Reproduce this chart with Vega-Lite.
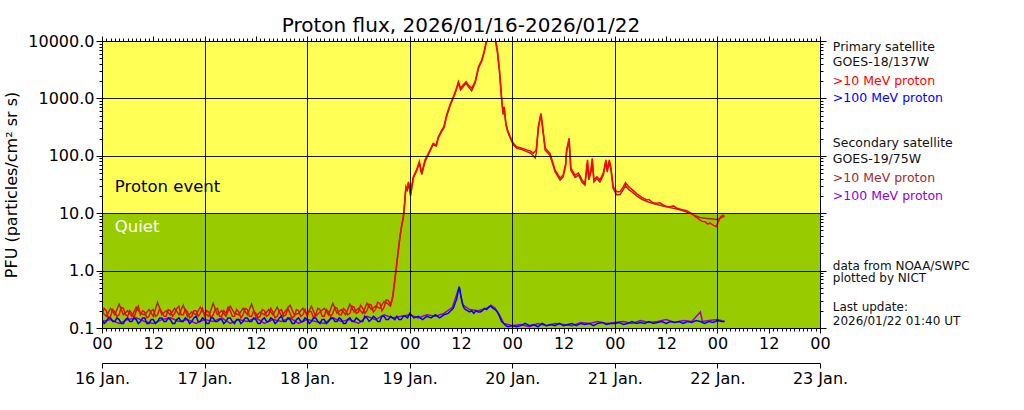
{
"$schema":"https://vega.github.io/schema/vega-lite/v6.json",
"width":718,"height":287,
"autosize":{"type":"none"},
"padding":{"left":102,"top":41,"right":204,"bottom":82},
"background":"white",
"title":{"text":"Proton flux, 2026/01/16-2026/01/22","fontSize":20,"font":"DejaVu Sans","fontWeight":"normal","color":"black","offset":-3,"anchor":"middle"},
"config":{"font":"DejaVu Sans","view":{"stroke":null},"axis":{"labelFont":"DejaVu Sans","titleFont":"DejaVu Sans","labelColor":"black","tickColor":"black","domainColor":"black","labelFontSize":16,"tickWidth":1,"domainWidth":1,"grid":false}},
"datasets":{
"goes18_10MeV":[
{"t":"2026-01-16T00:00Z","v":0.17},{"t":"2026-01-16T00:30Z","v":0.22},{"t":"2026-01-16T01:00Z","v":0.2},{"t":"2026-01-16T01:30Z","v":0.15},{"t":"2026-01-16T02:00Z","v":0.16},{"t":"2026-01-16T02:30Z","v":0.21},{"t":"2026-01-16T03:00Z","v":0.19},{"t":"2026-01-16T03:30Z","v":0.16},{"t":"2026-01-16T04:00Z","v":0.17},{"t":"2026-01-16T04:30Z","v":0.23},{"t":"2026-01-16T05:00Z","v":0.22},{"t":"2026-01-16T05:30Z","v":0.17},{"t":"2026-01-16T06:00Z","v":0.16},{"t":"2026-01-16T06:30Z","v":0.2},{"t":"2026-01-16T07:00Z","v":0.18},{"t":"2026-01-16T07:30Z","v":0.15},{"t":"2026-01-16T08:00Z","v":0.2},{"t":"2026-01-16T08:30Z","v":0.24},{"t":"2026-01-16T09:00Z","v":0.17},{"t":"2026-01-16T09:30Z","v":0.2},{"t":"2026-01-16T10:00Z","v":0.19},{"t":"2026-01-16T10:30Z","v":0.15},{"t":"2026-01-16T11:00Z","v":0.16},{"t":"2026-01-16T11:30Z","v":0.2},{"t":"2026-01-16T12:00Z","v":0.21},{"t":"2026-01-16T12:30Z","v":0.16},{"t":"2026-01-16T13:00Z","v":0.17},{"t":"2026-01-16T13:30Z","v":0.22},{"t":"2026-01-16T14:00Z","v":0.19},{"t":"2026-01-16T14:30Z","v":0.16},{"t":"2026-01-16T15:00Z","v":0.16},{"t":"2026-01-16T15:30Z","v":0.21},{"t":"2026-01-16T16:00Z","v":0.2},{"t":"2026-01-16T16:30Z","v":0.16},{"t":"2026-01-16T17:00Z","v":0.18},{"t":"2026-01-16T17:30Z","v":0.22},{"t":"2026-01-16T18:00Z","v":0.24},{"t":"2026-01-16T18:30Z","v":0.17},{"t":"2026-01-16T19:00Z","v":0.17},{"t":"2026-01-16T19:30Z","v":0.21},{"t":"2026-01-16T20:00Z","v":0.19},{"t":"2026-01-16T20:30Z","v":0.15},{"t":"2026-01-16T21:00Z","v":0.16},{"t":"2026-01-16T21:30Z","v":0.2},{"t":"2026-01-16T22:00Z","v":0.2},{"t":"2026-01-16T22:30Z","v":0.16},{"t":"2026-01-16T23:00Z","v":0.18},{"t":"2026-01-16T23:30Z","v":0.22},
{"t":"2026-01-17T00:00Z","v":0.16},{"t":"2026-01-17T00:30Z","v":0.2},{"t":"2026-01-17T01:00Z","v":0.19},{"t":"2026-01-17T01:30Z","v":0.15},{"t":"2026-01-17T02:00Z","v":0.17},{"t":"2026-01-17T02:30Z","v":0.21},{"t":"2026-01-17T03:00Z","v":0.22},{"t":"2026-01-17T03:30Z","v":0.16},{"t":"2026-01-17T04:00Z","v":0.16},{"t":"2026-01-17T04:30Z","v":0.2},{"t":"2026-01-17T05:00Z","v":0.18},{"t":"2026-01-17T05:30Z","v":0.23},{"t":"2026-01-17T06:00Z","v":0.2},{"t":"2026-01-17T06:30Z","v":0.16},{"t":"2026-01-17T07:00Z","v":0.16},{"t":"2026-01-17T07:30Z","v":0.21},{"t":"2026-01-17T08:00Z","v":0.19},{"t":"2026-01-17T08:30Z","v":0.15},{"t":"2026-01-17T09:00Z","v":0.17},{"t":"2026-01-17T09:30Z","v":0.22},{"t":"2026-01-17T10:00Z","v":0.21},{"t":"2026-01-17T10:30Z","v":0.16},{"t":"2026-01-17T11:00Z","v":0.16},{"t":"2026-01-17T11:30Z","v":0.2},{"t":"2026-01-17T12:00Z","v":0.18},{"t":"2026-01-17T12:30Z","v":0.15},{"t":"2026-01-17T13:00Z","v":0.16},{"t":"2026-01-17T13:30Z","v":0.21},{"t":"2026-01-17T14:00Z","v":0.2},{"t":"2026-01-17T14:30Z","v":0.16},{"t":"2026-01-17T15:00Z","v":0.17},{"t":"2026-01-17T15:30Z","v":0.22},{"t":"2026-01-17T16:00Z","v":0.19},{"t":"2026-01-17T16:30Z","v":0.15},{"t":"2026-01-17T17:00Z","v":0.16},{"t":"2026-01-17T17:30Z","v":0.2},{"t":"2026-01-17T18:00Z","v":0.21},{"t":"2026-01-17T18:30Z","v":0.16},{"t":"2026-01-17T19:00Z","v":0.17},{"t":"2026-01-17T19:30Z","v":0.22},{"t":"2026-01-17T20:00Z","v":0.18},{"t":"2026-01-17T20:30Z","v":0.15},{"t":"2026-01-17T21:00Z","v":0.16},{"t":"2026-01-17T21:30Z","v":0.21},{"t":"2026-01-17T22:00Z","v":0.2},{"t":"2026-01-17T22:30Z","v":0.16},{"t":"2026-01-17T23:00Z","v":0.17},{"t":"2026-01-17T23:30Z","v":0.21},
{"t":"2026-01-18T00:00Z","v":0.16},{"t":"2026-01-18T00:30Z","v":0.2},{"t":"2026-01-18T01:00Z","v":0.19},{"t":"2026-01-18T01:30Z","v":0.15},{"t":"2026-01-18T02:00Z","v":0.17},{"t":"2026-01-18T02:30Z","v":0.22},{"t":"2026-01-18T03:00Z","v":0.21},{"t":"2026-01-18T03:30Z","v":0.16},{"t":"2026-01-18T04:00Z","v":0.16},{"t":"2026-01-18T04:30Z","v":0.21},{"t":"2026-01-18T05:00Z","v":0.19},{"t":"2026-01-18T05:30Z","v":0.16},{"t":"2026-01-18T06:00Z","v":0.18},{"t":"2026-01-18T06:30Z","v":0.23},{"t":"2026-01-18T07:00Z","v":0.22},{"t":"2026-01-18T07:30Z","v":0.17},{"t":"2026-01-18T08:00Z","v":0.17},{"t":"2026-01-18T08:30Z","v":0.22},{"t":"2026-01-18T09:00Z","v":0.2},{"t":"2026-01-18T09:30Z","v":0.17},{"t":"2026-01-18T10:00Z","v":0.18},{"t":"2026-01-18T10:30Z","v":0.24},{"t":"2026-01-18T11:00Z","v":0.23},{"t":"2026-01-18T11:30Z","v":0.18},{"t":"2026-01-18T12:00Z","v":0.19},{"t":"2026-01-18T12:30Z","v":0.25},{"t":"2026-01-18T13:00Z","v":0.22},{"t":"2026-01-18T13:30Z","v":0.18},{"t":"2026-01-18T14:00Z","v":0.2},{"t":"2026-01-18T14:30Z","v":0.26},{"t":"2026-01-18T15:00Z","v":0.25},{"t":"2026-01-18T15:30Z","v":0.19},{"t":"2026-01-18T16:00Z","v":0.21},{"t":"2026-01-18T16:30Z","v":0.28},{"t":"2026-01-18T17:00Z","v":0.27},{"t":"2026-01-18T17:30Z","v":0.2},{"t":"2026-01-18T18:00Z","v":0.23},{"t":"2026-01-18T18:30Z","v":0.31},{"t":"2026-01-18T19:00Z","v":0.3},
{"t":"2026-01-18T19:30Z","v":0.26},{"t":"2026-01-18T20:00Z","v":0.35},{"t":"2026-01-18T20:12Z","v":0.46},{"t":"2026-01-18T20:36Z","v":0.8},{"t":"2026-01-18T20:57Z","v":1.34},{"t":"2026-01-18T21:20Z","v":2.3},{"t":"2026-01-18T21:42Z","v":3.9},{"t":"2026-01-18T22:06Z","v":6.0},{"t":"2026-01-18T22:30Z","v":8.7},{"t":"2026-01-18T22:48Z","v":15},{"t":"2026-01-18T23:06Z","v":29},{"t":"2026-01-18T23:24Z","v":26},{"t":"2026-01-18T23:42Z","v":35},
{"t":"2026-01-19T00:12Z","v":22},{"t":"2026-01-19T00:30Z","v":30},{"t":"2026-01-19T00:51Z","v":43},{"t":"2026-01-19T01:36Z","v":57},{"t":"2026-01-19T02:15Z","v":79},{"t":"2026-01-19T02:48Z","v":50},{"t":"2026-01-19T03:36Z","v":85},{"t":"2026-01-19T04:45Z","v":126},{"t":"2026-01-19T05:30Z","v":165},{"t":"2026-01-19T06:12Z","v":154},{"t":"2026-01-19T06:42Z","v":215},{"t":"2026-01-19T07:30Z","v":281},{"t":"2026-01-19T08:00Z","v":321},{"t":"2026-01-19T08:39Z","v":514},{"t":"2026-01-19T09:24Z","v":767},{"t":"2026-01-19T10:12Z","v":1072},{"t":"2026-01-19T10:48Z","v":1400},{"t":"2026-01-19T11:24Z","v":1955},{"t":"2026-01-19T11:54Z","v":1500},{"t":"2026-01-19T12:30Z","v":1710},{"t":"2026-01-19T13:12Z","v":1955},{"t":"2026-01-19T13:42Z","v":1710},{"t":"2026-01-19T14:30Z","v":1500},{"t":"2026-01-19T15:18Z","v":1955},{"t":"2026-01-19T16:06Z","v":3565},{"t":"2026-01-19T16:51Z","v":4670},{"t":"2026-01-19T17:24Z","v":6520},{"t":"2026-01-19T18:00Z","v":10500},{"t":"2026-01-19T19:00Z","v":13000},{"t":"2026-01-19T20:00Z","v":11500},{"t":"2026-01-19T20:30Z","v":6960},{"t":"2026-01-19T21:00Z","v":3130},{"t":"2026-01-19T21:18Z","v":1600},{"t":"2026-01-19T21:36Z","v":822},{"t":"2026-01-19T21:54Z","v":550},{"t":"2026-01-19T22:06Z","v":716},{"t":"2026-01-19T22:30Z","v":368},{"t":"2026-01-19T22:54Z","v":281},{"t":"2026-01-19T23:30Z","v":215},
{"t":"2026-01-20T00:15Z","v":165},{"t":"2026-01-20T01:00Z","v":144},{"t":"2026-01-20T02:12Z","v":135},{"t":"2026-01-20T03:24Z","v":126},{"t":"2026-01-20T04:12Z","v":122},{"t":"2026-01-20T04:54Z","v":111},{"t":"2026-01-20T05:36Z","v":126},{"t":"2026-01-20T06:06Z","v":321},{"t":"2026-01-20T06:42Z","v":549},{"t":"2026-01-20T07:06Z","v":321},{"t":"2026-01-20T07:42Z","v":135},{"t":"2026-01-20T08:48Z","v":111},{"t":"2026-01-20T09:24Z","v":80},{"t":"2026-01-20T10:00Z","v":57},{"t":"2026-01-20T11:12Z","v":41},{"t":"2026-01-20T11:54Z","v":46},{"t":"2026-01-20T12:30Z","v":74},{"t":"2026-01-20T12:42Z","v":126},{"t":"2026-01-20T13:18Z","v":202},{"t":"2026-01-20T13:30Z","v":111},{"t":"2026-01-20T13:42Z","v":61},{"t":"2026-01-20T14:42Z","v":46},{"t":"2026-01-20T15:30Z","v":50},{"t":"2026-01-20T16:18Z","v":38},{"t":"2026-01-20T17:00Z","v":33},{"t":"2026-01-20T17:36Z","v":85},{"t":"2026-01-20T17:54Z","v":41},{"t":"2026-01-20T18:24Z","v":57},{"t":"2026-01-20T18:42Z","v":90},{"t":"2026-01-20T19:06Z","v":38},{"t":"2026-01-20T19:48Z","v":43},{"t":"2026-01-20T20:30Z","v":38},{"t":"2026-01-20T21:18Z","v":50},{"t":"2026-01-20T21:54Z","v":85},{"t":"2026-01-20T22:12Z","v":57},{"t":"2026-01-20T22:42Z","v":85},{"t":"2026-01-20T23:06Z","v":61},{"t":"2026-01-20T23:36Z","v":29},
{"t":"2026-01-21T00:24Z","v":23.7},{"t":"2026-01-21T01:12Z","v":23.7},{"t":"2026-01-21T02:00Z","v":29},{"t":"2026-01-21T02:30Z","v":34},{"t":"2026-01-21T03:12Z","v":29},{"t":"2026-01-21T04:00Z","v":26},{"t":"2026-01-21T05:06Z","v":22},{"t":"2026-01-21T06:18Z","v":18.9},{"t":"2026-01-21T06:54Z","v":18},{"t":"2026-01-21T07:30Z","v":17},{"t":"2026-01-21T08:00Z","v":17.3},{"t":"2026-01-21T08:36Z","v":15.8},{"t":"2026-01-21T09:12Z","v":15},{"t":"2026-01-21T09:48Z","v":14.9},{"t":"2026-01-21T10:30Z","v":15.2},{"t":"2026-01-21T11:18Z","v":13.9},{"t":"2026-01-21T12:06Z","v":13.1},{"t":"2026-01-21T12:54Z","v":13},{"t":"2026-01-21T13:42Z","v":13.4},{"t":"2026-01-21T14:30Z","v":12.2},{"t":"2026-01-21T15:12Z","v":11.8},{"t":"2026-01-21T16:00Z","v":11.4},{"t":"2026-01-21T16:48Z","v":11},{"t":"2026-01-21T17:36Z","v":10.2},{"t":"2026-01-21T18:12Z","v":9.6},{"t":"2026-01-21T18:48Z","v":8.7},{"t":"2026-01-21T19:18Z","v":8.3},{"t":"2026-01-21T19:54Z","v":7.6},{"t":"2026-01-21T20:30Z","v":7.2},{"t":"2026-01-21T21:06Z","v":7.1},{"t":"2026-01-21T21:42Z","v":6.5},{"t":"2026-01-21T22:18Z","v":6.7},{"t":"2026-01-21T23:00Z","v":6.2},{"t":"2026-01-21T23:42Z","v":5.8},
{"t":"2026-01-22T00:12Z","v":7.1},{"t":"2026-01-22T00:48Z","v":8.7},{"t":"2026-01-22T01:12Z","v":9.2},{"t":"2026-01-22T01:40Z","v":9.0}
],
"goes19_10MeV":[
{"t":"2026-01-16T00:00Z","v":0.19},{"t":"2026-01-16T01:00Z","v":0.16},{"t":"2026-01-16T02:00Z","v":0.22},{"t":"2026-01-16T03:00Z","v":0.17},{"t":"2026-01-16T04:00Z","v":0.26},{"t":"2026-01-16T05:00Z","v":0.17},{"t":"2026-01-16T06:00Z","v":0.2},{"t":"2026-01-16T07:00Z","v":0.16},{"t":"2026-01-16T08:00Z","v":0.23},{"t":"2026-01-16T09:00Z","v":0.18},{"t":"2026-01-16T10:00Z","v":0.17},{"t":"2026-01-16T11:00Z","v":0.21},{"t":"2026-01-16T12:00Z","v":0.16},{"t":"2026-01-16T13:00Z","v":0.28},{"t":"2026-01-16T14:00Z","v":0.17},{"t":"2026-01-16T15:00Z","v":0.2},{"t":"2026-01-16T16:00Z","v":0.17},{"t":"2026-01-16T17:00Z","v":0.22},{"t":"2026-01-16T18:00Z","v":0.17},{"t":"2026-01-16T19:00Z","v":0.25},{"t":"2026-01-16T20:00Z","v":0.16},{"t":"2026-01-16T21:00Z","v":0.19},{"t":"2026-01-16T22:00Z","v":0.17},{"t":"2026-01-16T23:00Z","v":0.23},
{"t":"2026-01-17T00:00Z","v":0.18},{"t":"2026-01-17T01:00Z","v":0.16},{"t":"2026-01-17T02:00Z","v":0.27},{"t":"2026-01-17T03:00Z","v":0.17},{"t":"2026-01-17T04:00Z","v":0.2},{"t":"2026-01-17T05:00Z","v":0.16},{"t":"2026-01-17T06:00Z","v":0.24},{"t":"2026-01-17T07:00Z","v":0.18},{"t":"2026-01-17T08:00Z","v":0.17},{"t":"2026-01-17T09:00Z","v":0.22},{"t":"2026-01-17T10:00Z","v":0.17},{"t":"2026-01-17T11:00Z","v":0.26},{"t":"2026-01-17T12:00Z","v":0.16},{"t":"2026-01-17T13:00Z","v":0.19},{"t":"2026-01-17T14:00Z","v":0.17},{"t":"2026-01-17T15:00Z","v":0.21},{"t":"2026-01-17T16:00Z","v":0.17},{"t":"2026-01-17T17:00Z","v":0.23},{"t":"2026-01-17T18:00Z","v":0.16},{"t":"2026-01-17T19:00Z","v":0.2},{"t":"2026-01-17T20:00Z","v":0.25},{"t":"2026-01-17T21:00Z","v":0.17},{"t":"2026-01-17T22:00Z","v":0.18},{"t":"2026-01-17T23:00Z","v":0.22},
{"t":"2026-01-18T00:00Z","v":0.17},{"t":"2026-01-18T01:00Z","v":0.24},{"t":"2026-01-18T02:00Z","v":0.16},{"t":"2026-01-18T03:00Z","v":0.19},{"t":"2026-01-18T04:00Z","v":0.22},{"t":"2026-01-18T05:00Z","v":0.17},{"t":"2026-01-18T06:00Z","v":0.27},{"t":"2026-01-18T07:00Z","v":0.18},{"t":"2026-01-18T08:00Z","v":0.21},{"t":"2026-01-18T09:00Z","v":0.17},{"t":"2026-01-18T10:00Z","v":0.26},{"t":"2026-01-18T11:00Z","v":0.19},{"t":"2026-01-18T12:00Z","v":0.22},{"t":"2026-01-18T13:00Z","v":0.18},{"t":"2026-01-18T14:00Z","v":0.27},{"t":"2026-01-18T15:00Z","v":0.21},{"t":"2026-01-18T16:00Z","v":0.24},{"t":"2026-01-18T17:00Z","v":0.22},{"t":"2026-01-18T18:00Z","v":0.29},{"t":"2026-01-18T19:00Z","v":0.26},
{"t":"2026-01-18T19:30Z","v":0.24},{"t":"2026-01-18T20:00Z","v":0.33},{"t":"2026-01-18T20:12Z","v":0.42},{"t":"2026-01-18T20:36Z","v":0.75},{"t":"2026-01-18T20:57Z","v":1.25},{"t":"2026-01-18T21:20Z","v":2.2},{"t":"2026-01-18T21:42Z","v":3.7},{"t":"2026-01-18T22:06Z","v":5.8},{"t":"2026-01-18T22:30Z","v":8.3},{"t":"2026-01-18T22:48Z","v":14},{"t":"2026-01-18T23:06Z","v":27},{"t":"2026-01-18T23:24Z","v":25},{"t":"2026-01-18T23:42Z","v":33},
{"t":"2026-01-19T00:12Z","v":20},{"t":"2026-01-19T00:30Z","v":28},{"t":"2026-01-19T00:51Z","v":41},{"t":"2026-01-19T01:36Z","v":54},{"t":"2026-01-19T02:15Z","v":75},{"t":"2026-01-19T02:48Z","v":47},{"t":"2026-01-19T03:36Z","v":80},{"t":"2026-01-19T04:45Z","v":120},{"t":"2026-01-19T05:30Z","v":158},{"t":"2026-01-19T06:12Z","v":148},{"t":"2026-01-19T06:42Z","v":205},{"t":"2026-01-19T07:30Z","v":268},{"t":"2026-01-19T08:00Z","v":305},{"t":"2026-01-19T08:39Z","v":490},{"t":"2026-01-19T09:24Z","v":730},{"t":"2026-01-19T10:12Z","v":1020},{"t":"2026-01-19T10:48Z","v":1330},{"t":"2026-01-19T11:24Z","v":1850},{"t":"2026-01-19T11:54Z","v":1400},{"t":"2026-01-19T12:30Z","v":1600},{"t":"2026-01-19T13:12Z","v":1850},{"t":"2026-01-19T13:42Z","v":1600},{"t":"2026-01-19T14:30Z","v":1350},{"t":"2026-01-19T15:18Z","v":1850},{"t":"2026-01-19T16:06Z","v":3400},{"t":"2026-01-19T16:51Z","v":4450},{"t":"2026-01-19T17:24Z","v":6200},{"t":"2026-01-19T18:00Z","v":10000},{"t":"2026-01-19T19:00Z","v":12000},{"t":"2026-01-19T20:00Z","v":10500},{"t":"2026-01-19T20:30Z","v":6600},{"t":"2026-01-19T21:00Z","v":2950},{"t":"2026-01-19T21:18Z","v":1500},{"t":"2026-01-19T21:36Z","v":780},{"t":"2026-01-19T21:54Z","v":520},{"t":"2026-01-19T22:06Z","v":680},{"t":"2026-01-19T22:30Z","v":350},{"t":"2026-01-19T22:54Z","v":265},{"t":"2026-01-19T23:30Z","v":205},
{"t":"2026-01-20T00:15Z","v":155},{"t":"2026-01-20T01:00Z","v":136},{"t":"2026-01-20T02:12Z","v":128},{"t":"2026-01-20T03:24Z","v":118},{"t":"2026-01-20T04:12Z","v":112},{"t":"2026-01-20T04:54Z","v":100},{"t":"2026-01-20T05:20Z","v":92},{"t":"2026-01-20T05:36Z","v":110},{"t":"2026-01-20T06:06Z","v":300},{"t":"2026-01-20T06:42Z","v":520},{"t":"2026-01-20T07:06Z","v":300},{"t":"2026-01-20T07:42Z","v":125},{"t":"2026-01-20T08:48Z","v":102},{"t":"2026-01-20T09:24Z","v":74},{"t":"2026-01-20T10:00Z","v":53},{"t":"2026-01-20T11:12Z","v":38},{"t":"2026-01-20T11:54Z","v":43},{"t":"2026-01-20T12:30Z","v":68},{"t":"2026-01-20T12:42Z","v":115},{"t":"2026-01-20T13:18Z","v":185},{"t":"2026-01-20T13:30Z","v":100},{"t":"2026-01-20T13:42Z","v":56},{"t":"2026-01-20T14:42Z","v":42},{"t":"2026-01-20T15:30Z","v":46},{"t":"2026-01-20T16:18Z","v":35},{"t":"2026-01-20T17:00Z","v":31},{"t":"2026-01-20T17:36Z","v":75},{"t":"2026-01-20T17:54Z","v":38},{"t":"2026-01-20T18:24Z","v":52},{"t":"2026-01-20T18:42Z","v":80},{"t":"2026-01-20T19:06Z","v":35},{"t":"2026-01-20T19:48Z","v":40},{"t":"2026-01-20T20:30Z","v":35},{"t":"2026-01-20T21:18Z","v":46},{"t":"2026-01-20T21:54Z","v":78},{"t":"2026-01-20T22:12Z","v":52},{"t":"2026-01-20T22:42Z","v":78},{"t":"2026-01-20T23:06Z","v":56},{"t":"2026-01-20T23:36Z","v":27},
{"t":"2026-01-21T00:24Z","v":21},{"t":"2026-01-21T01:12Z","v":21},{"t":"2026-01-21T02:00Z","v":26},{"t":"2026-01-21T02:30Z","v":30},{"t":"2026-01-21T03:12Z","v":26},{"t":"2026-01-21T04:00Z","v":23.5},{"t":"2026-01-21T05:06Z","v":20},{"t":"2026-01-21T06:18Z","v":17.5},{"t":"2026-01-21T07:30Z","v":16},{"t":"2026-01-21T08:36Z","v":15},{"t":"2026-01-21T09:48Z","v":14.2},{"t":"2026-01-21T11:18Z","v":13.3},{"t":"2026-01-21T12:54Z","v":12.5},{"t":"2026-01-21T14:30Z","v":11.8},{"t":"2026-01-21T16:00Z","v":11},{"t":"2026-01-21T17:36Z","v":10},{"t":"2026-01-21T18:48Z","v":9.0},{"t":"2026-01-21T19:54Z","v":8.4},{"t":"2026-01-21T21:06Z","v":8.2},{"t":"2026-01-21T22:18Z","v":8.0},{"t":"2026-01-21T23:00Z","v":7.9},{"t":"2026-01-21T23:42Z","v":7.8},
{"t":"2026-01-22T00:12Z","v":7.9},{"t":"2026-01-22T00:48Z","v":8.3},{"t":"2026-01-22T01:12Z","v":8.6},{"t":"2026-01-22T01:40Z","v":8.8}
],
"goes18_100MeV":[
{"t":"2026-01-16T00:00Z","v":0.14},{"t":"2026-01-16T00:30Z","v":0.12},{"t":"2026-01-16T01:00Z","v":0.13},{"t":"2026-01-16T01:30Z","v":0.15},{"t":"2026-01-16T02:00Z","v":0.15},{"t":"2026-01-16T02:30Z","v":0.13},{"t":"2026-01-16T03:00Z","v":0.13},{"t":"2026-01-16T03:30Z","v":0.15},{"t":"2026-01-16T04:00Z","v":0.14},{"t":"2026-01-16T04:30Z","v":0.12},{"t":"2026-01-16T05:00Z","v":0.12},{"t":"2026-01-16T05:30Z","v":0.14},{"t":"2026-01-16T06:00Z","v":0.15},{"t":"2026-01-16T06:30Z","v":0.13},{"t":"2026-01-16T07:00Z","v":0.13},{"t":"2026-01-16T07:30Z","v":0.15},{"t":"2026-01-16T08:00Z","v":0.14},{"t":"2026-01-16T08:30Z","v":0.12},{"t":"2026-01-16T09:00Z","v":0.13},{"t":"2026-01-16T09:30Z","v":0.15},{"t":"2026-01-16T10:00Z","v":0.15},{"t":"2026-01-16T10:30Z","v":0.12},{"t":"2026-01-16T11:00Z","v":0.12},{"t":"2026-01-16T11:30Z","v":0.14},{"t":"2026-01-16T12:00Z","v":0.14},{"t":"2026-01-16T12:30Z","v":0.12},{"t":"2026-01-16T13:00Z","v":0.13},{"t":"2026-01-16T13:30Z","v":0.15},{"t":"2026-01-16T14:00Z","v":0.15},{"t":"2026-01-16T14:30Z","v":0.13},{"t":"2026-01-16T15:00Z","v":0.13},{"t":"2026-01-16T15:30Z","v":0.15},{"t":"2026-01-16T16:00Z","v":0.14},{"t":"2026-01-16T16:30Z","v":0.12},{"t":"2026-01-16T17:00Z","v":0.12},{"t":"2026-01-16T17:30Z","v":0.14},{"t":"2026-01-16T18:00Z","v":0.15},{"t":"2026-01-16T18:30Z","v":0.13},{"t":"2026-01-16T19:00Z","v":0.13},{"t":"2026-01-16T19:30Z","v":0.15},{"t":"2026-01-16T20:00Z","v":0.14},{"t":"2026-01-16T20:30Z","v":0.12},{"t":"2026-01-16T21:00Z","v":0.13},{"t":"2026-01-16T21:30Z","v":0.15},{"t":"2026-01-16T22:00Z","v":0.16},{"t":"2026-01-16T22:30Z","v":0.13},{"t":"2026-01-16T23:00Z","v":0.13},{"t":"2026-01-16T23:30Z","v":0.15},
{"t":"2026-01-17T00:00Z","v":0.14},{"t":"2026-01-17T00:30Z","v":0.12},{"t":"2026-01-17T01:00Z","v":0.12},{"t":"2026-01-17T01:30Z","v":0.15},{"t":"2026-01-17T02:00Z","v":0.15},{"t":"2026-01-17T02:30Z","v":0.13},{"t":"2026-01-17T03:00Z","v":0.13},{"t":"2026-01-17T03:30Z","v":0.14},{"t":"2026-01-17T04:00Z","v":0.14},{"t":"2026-01-17T04:30Z","v":0.12},{"t":"2026-01-17T05:00Z","v":0.13},{"t":"2026-01-17T05:30Z","v":0.15},{"t":"2026-01-17T06:00Z","v":0.15},{"t":"2026-01-17T06:30Z","v":0.13},{"t":"2026-01-17T07:00Z","v":0.12},{"t":"2026-01-17T07:30Z","v":0.14},{"t":"2026-01-17T08:00Z","v":0.14},{"t":"2026-01-17T08:30Z","v":0.12},{"t":"2026-01-17T09:00Z","v":0.13},{"t":"2026-01-17T09:30Z","v":0.15},{"t":"2026-01-17T10:00Z","v":0.15},{"t":"2026-01-17T10:30Z","v":0.13},{"t":"2026-01-17T11:00Z","v":0.13},{"t":"2026-01-17T11:30Z","v":0.15},{"t":"2026-01-17T12:00Z","v":0.14},{"t":"2026-01-17T12:30Z","v":0.12},{"t":"2026-01-17T13:00Z","v":0.12},{"t":"2026-01-17T13:30Z","v":0.14},{"t":"2026-01-17T14:00Z","v":0.15},{"t":"2026-01-17T14:30Z","v":0.13},{"t":"2026-01-17T15:00Z","v":0.13},{"t":"2026-01-17T15:30Z","v":0.15},{"t":"2026-01-17T16:00Z","v":0.14},{"t":"2026-01-17T16:30Z","v":0.12},{"t":"2026-01-17T17:00Z","v":0.13},{"t":"2026-01-17T17:30Z","v":0.15},{"t":"2026-01-17T18:00Z","v":0.16},{"t":"2026-01-17T18:30Z","v":0.13},{"t":"2026-01-17T19:00Z","v":0.13},{"t":"2026-01-17T19:30Z","v":0.15},{"t":"2026-01-17T20:00Z","v":0.14},{"t":"2026-01-17T20:30Z","v":0.12},{"t":"2026-01-17T21:00Z","v":0.12},{"t":"2026-01-17T21:30Z","v":0.14},{"t":"2026-01-17T22:00Z","v":0.15},{"t":"2026-01-17T22:30Z","v":0.13},{"t":"2026-01-17T23:00Z","v":0.13},{"t":"2026-01-17T23:30Z","v":0.15},
{"t":"2026-01-18T00:00Z","v":0.14},{"t":"2026-01-18T00:30Z","v":0.12},{"t":"2026-01-18T01:00Z","v":0.13},{"t":"2026-01-18T01:30Z","v":0.15},{"t":"2026-01-18T02:00Z","v":0.15},{"t":"2026-01-18T02:30Z","v":0.13},{"t":"2026-01-18T03:00Z","v":0.12},{"t":"2026-01-18T03:30Z","v":0.14},{"t":"2026-01-18T04:00Z","v":0.14},{"t":"2026-01-18T04:30Z","v":0.12},{"t":"2026-01-18T05:00Z","v":0.13},{"t":"2026-01-18T05:30Z","v":0.15},{"t":"2026-01-18T06:00Z","v":0.15},{"t":"2026-01-18T06:30Z","v":0.13},{"t":"2026-01-18T07:00Z","v":0.13},{"t":"2026-01-18T07:30Z","v":0.15},{"t":"2026-01-18T08:00Z","v":0.14},{"t":"2026-01-18T08:30Z","v":0.12},{"t":"2026-01-18T09:00Z","v":0.12},{"t":"2026-01-18T09:30Z","v":0.14},{"t":"2026-01-18T10:00Z","v":0.15},{"t":"2026-01-18T10:30Z","v":0.13},{"t":"2026-01-18T11:00Z","v":0.13},{"t":"2026-01-18T11:30Z","v":0.15},{"t":"2026-01-18T12:00Z","v":0.14},{"t":"2026-01-18T12:30Z","v":0.13},{"t":"2026-01-18T13:00Z","v":0.13},{"t":"2026-01-18T13:30Z","v":0.16},{"t":"2026-01-18T14:00Z","v":0.15},{"t":"2026-01-18T14:30Z","v":0.13},{"t":"2026-01-18T15:00Z","v":0.14},{"t":"2026-01-18T15:30Z","v":0.16},{"t":"2026-01-18T16:00Z","v":0.15},{"t":"2026-01-18T16:30Z","v":0.13},{"t":"2026-01-18T17:00Z","v":0.13},{"t":"2026-01-18T17:30Z","v":0.16},{"t":"2026-01-18T18:00Z","v":0.16},{"t":"2026-01-18T18:30Z","v":0.14},{"t":"2026-01-18T19:00Z","v":0.14},{"t":"2026-01-18T19:30Z","v":0.16},{"t":"2026-01-18T20:00Z","v":0.15},{"t":"2026-01-18T20:30Z","v":0.14},{"t":"2026-01-18T21:00Z","v":0.16},{"t":"2026-01-18T21:30Z","v":0.14},{"t":"2026-01-18T22:00Z","v":0.14},{"t":"2026-01-18T22:30Z","v":0.16},{"t":"2026-01-18T23:00Z","v":0.16},{"t":"2026-01-18T23:30Z","v":0.15},
{"t":"2026-01-19T00:00Z","v":0.18},{"t":"2026-01-19T01:00Z","v":0.15},{"t":"2026-01-19T02:00Z","v":0.16},{"t":"2026-01-19T03:00Z","v":0.14},{"t":"2026-01-19T04:00Z","v":0.16},{"t":"2026-01-19T05:00Z","v":0.15},{"t":"2026-01-19T06:00Z","v":0.17},{"t":"2026-01-19T07:00Z","v":0.15},{"t":"2026-01-19T08:00Z","v":0.17},{"t":"2026-01-19T09:00Z","v":0.18},{"t":"2026-01-19T09:36Z","v":0.2},{"t":"2026-01-19T10:12Z","v":0.22},{"t":"2026-01-19T10:42Z","v":0.28},{"t":"2026-01-19T11:00Z","v":0.32},{"t":"2026-01-19T11:18Z","v":0.42},{"t":"2026-01-19T11:36Z","v":0.52},{"t":"2026-01-19T11:48Z","v":0.45},{"t":"2026-01-19T12:00Z","v":0.35},{"t":"2026-01-19T12:18Z","v":0.27},{"t":"2026-01-19T12:36Z","v":0.23},{"t":"2026-01-19T13:00Z","v":0.21},{"t":"2026-01-19T13:30Z","v":0.2},{"t":"2026-01-19T14:00Z","v":0.19},{"t":"2026-01-19T14:30Z","v":0.2},{"t":"2026-01-19T15:00Z","v":0.18},{"t":"2026-01-19T15:30Z","v":0.2},{"t":"2026-01-19T16:00Z","v":0.19},{"t":"2026-01-19T16:30Z","v":0.19},{"t":"2026-01-19T17:00Z","v":0.2},{"t":"2026-01-19T17:30Z","v":0.22},{"t":"2026-01-19T18:00Z","v":0.21},{"t":"2026-01-19T18:30Z","v":0.23},{"t":"2026-01-19T19:00Z","v":0.24},{"t":"2026-01-19T19:30Z","v":0.22},{"t":"2026-01-19T20:00Z","v":0.21},{"t":"2026-01-19T20:30Z","v":0.19},{"t":"2026-01-19T21:00Z","v":0.16},{"t":"2026-01-19T21:30Z","v":0.13},{"t":"2026-01-19T22:00Z","v":0.12},{"t":"2026-01-19T22:30Z","v":0.11},{"t":"2026-01-19T23:00Z","v":0.105},
{"t":"2026-01-20T00:00Z","v":0.11},{"t":"2026-01-20T01:00Z","v":0.105},{"t":"2026-01-20T02:00Z","v":0.11},{"t":"2026-01-20T03:00Z","v":0.12},{"t":"2026-01-20T04:00Z","v":0.11},{"t":"2026-01-20T05:00Z","v":0.115},{"t":"2026-01-20T06:00Z","v":0.105},{"t":"2026-01-20T07:00Z","v":0.12},{"t":"2026-01-20T08:00Z","v":0.11},{"t":"2026-01-20T09:00Z","v":0.115},{"t":"2026-01-20T10:00Z","v":0.11},{"t":"2026-01-20T11:00Z","v":0.12},{"t":"2026-01-20T12:00Z","v":0.11},{"t":"2026-01-20T13:00Z","v":0.115},{"t":"2026-01-20T14:00Z","v":0.12},{"t":"2026-01-20T15:00Z","v":0.11},{"t":"2026-01-20T16:00Z","v":0.12},{"t":"2026-01-20T17:00Z","v":0.115},{"t":"2026-01-20T18:00Z","v":0.12},{"t":"2026-01-20T19:00Z","v":0.11},{"t":"2026-01-20T20:00Z","v":0.12},{"t":"2026-01-20T21:00Z","v":0.125},{"t":"2026-01-20T22:00Z","v":0.115},{"t":"2026-01-20T23:00Z","v":0.12},
{"t":"2026-01-21T00:00Z","v":0.12},{"t":"2026-01-21T01:00Z","v":0.125},{"t":"2026-01-21T02:00Z","v":0.115},{"t":"2026-01-21T03:00Z","v":0.12},{"t":"2026-01-21T04:00Z","v":0.13},{"t":"2026-01-21T05:00Z","v":0.12},{"t":"2026-01-21T06:00Z","v":0.125},{"t":"2026-01-21T07:00Z","v":0.12},{"t":"2026-01-21T08:00Z","v":0.13},{"t":"2026-01-21T09:00Z","v":0.12},{"t":"2026-01-21T10:00Z","v":0.125},{"t":"2026-01-21T11:00Z","v":0.13},{"t":"2026-01-21T12:00Z","v":0.12},{"t":"2026-01-21T13:00Z","v":0.13},{"t":"2026-01-21T14:00Z","v":0.125},{"t":"2026-01-21T15:00Z","v":0.13},{"t":"2026-01-21T16:00Z","v":0.12},{"t":"2026-01-21T17:00Z","v":0.13},{"t":"2026-01-21T18:00Z","v":0.125},{"t":"2026-01-21T19:00Z","v":0.135},{"t":"2026-01-21T20:00Z","v":0.13},{"t":"2026-01-21T21:00Z","v":0.12},{"t":"2026-01-21T22:00Z","v":0.13},{"t":"2026-01-21T23:00Z","v":0.125},
{"t":"2026-01-22T00:00Z","v":0.135},{"t":"2026-01-22T01:00Z","v":0.13},{"t":"2026-01-22T01:40Z","v":0.13}
],
"goes19_100MeV":[
{"t":"2026-01-16T00:00Z","v":0.13},{"t":"2026-01-16T02:00Z","v":0.14},{"t":"2026-01-16T04:00Z","v":0.12},{"t":"2026-01-16T06:00Z","v":0.14},{"t":"2026-01-16T08:00Z","v":0.15},{"t":"2026-01-16T10:00Z","v":0.13},{"t":"2026-01-16T12:00Z","v":0.12},{"t":"2026-01-16T14:00Z","v":0.14},{"t":"2026-01-16T16:00Z","v":0.15},{"t":"2026-01-16T18:00Z","v":0.13},{"t":"2026-01-16T20:00Z","v":0.14},{"t":"2026-01-16T22:00Z","v":0.12},
{"t":"2026-01-17T00:00Z","v":0.14},{"t":"2026-01-17T02:00Z","v":0.13},{"t":"2026-01-17T04:00Z","v":0.15},{"t":"2026-01-17T06:00Z","v":0.12},{"t":"2026-01-17T08:00Z","v":0.14},{"t":"2026-01-17T10:00Z","v":0.13},{"t":"2026-01-17T12:00Z","v":0.15},{"t":"2026-01-17T14:00Z","v":0.12},{"t":"2026-01-17T16:00Z","v":0.14},{"t":"2026-01-17T18:00Z","v":0.13},{"t":"2026-01-17T20:00Z","v":0.15},{"t":"2026-01-17T22:00Z","v":0.12},
{"t":"2026-01-18T00:00Z","v":0.14},{"t":"2026-01-18T02:00Z","v":0.13},{"t":"2026-01-18T04:00Z","v":0.12},{"t":"2026-01-18T06:00Z","v":0.15},{"t":"2026-01-18T08:00Z","v":0.13},{"t":"2026-01-18T10:00Z","v":0.14},{"t":"2026-01-18T12:00Z","v":0.12},{"t":"2026-01-18T14:00Z","v":0.16},{"t":"2026-01-18T16:00Z","v":0.14},{"t":"2026-01-18T18:00Z","v":0.17},{"t":"2026-01-18T20:00Z","v":0.15},{"t":"2026-01-18T22:00Z","v":0.16},
{"t":"2026-01-19T00:00Z","v":0.17},{"t":"2026-01-19T02:00Z","v":0.15},{"t":"2026-01-19T04:00Z","v":0.17},{"t":"2026-01-19T06:00Z","v":0.16},{"t":"2026-01-19T08:00Z","v":0.18},{"t":"2026-01-19T10:00Z","v":0.23},{"t":"2026-01-19T11:30Z","v":0.5},{"t":"2026-01-19T12:30Z","v":0.25},{"t":"2026-01-19T14:00Z","v":0.21},{"t":"2026-01-19T16:00Z","v":0.2},{"t":"2026-01-19T18:00Z","v":0.22},{"t":"2026-01-19T19:00Z","v":0.25},{"t":"2026-01-19T20:00Z","v":0.22},{"t":"2026-01-19T21:00Z","v":0.17},{"t":"2026-01-19T22:00Z","v":0.12},
{"t":"2026-01-20T00:00Z","v":0.11},{"t":"2026-01-20T02:00Z","v":0.115},{"t":"2026-01-20T04:00Z","v":0.105},{"t":"2026-01-20T06:00Z","v":0.12},{"t":"2026-01-20T08:00Z","v":0.11},{"t":"2026-01-20T10:00Z","v":0.12},{"t":"2026-01-20T12:00Z","v":0.115},{"t":"2026-01-20T14:00Z","v":0.11},{"t":"2026-01-20T16:00Z","v":0.125},{"t":"2026-01-20T18:00Z","v":0.12},{"t":"2026-01-20T20:00Z","v":0.13},{"t":"2026-01-20T22:00Z","v":0.12},
{"t":"2026-01-21T00:00Z","v":0.125},{"t":"2026-01-21T02:00Z","v":0.13},{"t":"2026-01-21T04:00Z","v":0.12},{"t":"2026-01-21T06:00Z","v":0.135},{"t":"2026-01-21T08:00Z","v":0.125},{"t":"2026-01-21T10:00Z","v":0.13},{"t":"2026-01-21T12:00Z","v":0.14},{"t":"2026-01-21T14:00Z","v":0.125},{"t":"2026-01-21T16:00Z","v":0.135},{"t":"2026-01-21T18:00Z","v":0.13},{"t":"2026-01-21T20:00Z","v":0.19},{"t":"2026-01-21T20:30Z","v":0.13},{"t":"2026-01-21T22:00Z","v":0.135},
{"t":"2026-01-22T00:00Z","v":0.14},{"t":"2026-01-22T01:40Z","v":0.13}
]
},
"layer":[
{"data":{"values":[{"start":"2026-01-16T00:00Z","end":"2026-01-23T00:00Z","low":10,"high":10000,"zone":"Proton event"},{"start":"2026-01-16T00:00Z","end":"2026-01-23T00:00Z","low":0.1,"high":10,"zone":"Quiet"}]},
 "mark":{"type":"rect"},
 "encoding":{
  "x":{"field":"start","type":"temporal","scale":{"type":"utc","domain":[1768521600000,1769126400000],"nice":false},
   "axis":{"orient":"bottom","offset":35,"tickCount":{"interval":"day","step":1},"format":"%d %b.","tickSize":5,"labelPadding":2,"domain":true,"labelFlush":false,"labelOverlap":false,"grid":false,"title":null}},
  "x2":{"field":"end"},
  "y":{"field":"low","type":"quantitative","scale":{"type":"log","domain":[0.1,10000],"nice":false},
   "axis":{"orient":"left","values":[0.1,1,10,100,1000,10000],"format":".1f","labelOverlap":false,"labelFlush":false,"tickSize":6,"labelPadding":2,"domain":true,"grid":true,"gridColor":"black","gridOpacity":0.9,"zindex":1,
    "title":"PFU (particles/cm² sr s)","titleFontSize":16,"titleFontWeight":"normal","titleColor":"black","titlePadding":8}},
  "y2":{"field":"high"},
  "fill":{"field":"zone","type":"nominal","scale":{"domain":["Proton event","Quiet"],"range":["#FFFF55","#99CC00"]},"legend":null}
 }},
{"data":{"name":"goes19_10MeV"},
 "mark":{"type":"line","color":"#A52A2A","strokeWidth":1.5,"clip":true},
 "encoding":{
  "x":{"field":"t","type":"temporal","scale":{"type":"utc"},
   "axis":{"orient":"bottom","values":[1768521600000,1768564800000,1768608000000,1768651200000,1768694400000,1768737600000,1768780800000,1768824000000,1768867200000,1768910400000,1768953600000,1768996800000,1769040000000,1769083200000,1769126400000],"format":"%H","labelOverlap":false,"labelFlush":false,"tickSize":5,"labelPadding":2,"domain":true,"grid":false,"zindex":1,"title":null}},
  "y":{"field":"v","type":"quantitative","scale":{"type":"log"},
   "axis":{"orient":"left","values":[0.2,0.3,0.4,0.5,0.6,0.7,0.8,0.9,2,3,4,5,6,7,8,9,20,30,40,50,60,70,80,90,200,300,400,500,600,700,800,900,2000,3000,4000,5000,6000,7000,8000,9000],"labels":false,"tickSize":3,"domain":false,"grid":false,"zindex":1,"title":null}}
 }},
{"data":{"name":"goes19_100MeV"},
 "mark":{"type":"line","color":"#9400D3","strokeWidth":1.5,"clip":true},
 "encoding":{
  "x":{"field":"t","type":"temporal","scale":{"type":"utc"},
   "axis":{"orient":"bottom","tickCount":168,"labels":false,"tickSize":3,"domain":false,"grid":false,"zindex":1,"title":null}},
  "y":{"field":"v","type":"quantitative","scale":{"type":"log"},
   "axis":{"orient":"right","values":[0.1,1,10,100,1000,10000],"labels":false,"tickSize":6,"domain":true,"grid":false,"zindex":1,"title":null}}
 }},
{"data":{"name":"goes18_10MeV"},
 "mark":{"type":"line","color":"#FF0000","strokeWidth":1.5,"clip":true},
 "encoding":{
  "x":{"field":"t","type":"temporal","scale":{"type":"utc"},
   "axis":{"orient":"top","values":[1768521600000,1768564800000,1768608000000,1768651200000,1768694400000,1768737600000,1768780800000,1768824000000,1768867200000,1768910400000,1768953600000,1768996800000,1769040000000,1769083200000,1769126400000],"labels":false,"tickSize":5,"domain":true,"grid":false,"zindex":1,"title":null}},
  "y":{"field":"v","type":"quantitative","scale":{"type":"log"},
   "axis":{"orient":"right","values":[0.2,0.3,0.4,0.5,0.6,0.7,0.8,0.9,2,3,4,5,6,7,8,9,20,30,40,50,60,70,80,90,200,300,400,500,600,700,800,900,2000,3000,4000,5000,6000,7000,8000,9000],"labels":false,"tickSize":3,"domain":false,"grid":false,"zindex":1,"title":null}}
 }},
{"data":{"name":"goes18_100MeV"},
 "mark":{"type":"line","color":"#0000FF","strokeWidth":1.5,"clip":true},
 "encoding":{
  "x":{"field":"t","type":"temporal","scale":{"type":"utc"},
   "axis":{"orient":"top","tickCount":168,"labels":false,"tickSize":3,"domain":false,"grid":false,"zindex":1,"title":null}},
  "y":{"field":"v","type":"quantitative","scale":{"type":"log"},"axis":null}
 }},
{"data":{"values":[{"t":"2026-01-16T03:00Z","v":28.6,"label":"Proton event","series":"black"},{"t":"2026-01-16T03:00Z","v":5.75,"label":"Quiet","series":"white"}]},
 "mark":{"type":"text","align":"left","baseline":"middle","fontSize":16.5,"font":"DejaVu Sans"},
 "encoding":{
  "x":{"field":"t","type":"temporal","scale":{"type":"utc"},
   "axis":{"orient":"bottom","tickCount":{"interval":"day","step":1},"labels":false,"ticks":false,"domain":false,"grid":true,"gridColor":"black","gridOpacity":0.9,"zindex":1,"title":null}},
  "y":{"field":"v","type":"quantitative","scale":{"type":"log"},"axis":null},
  "text":{"field":"label"},
  "color":{"field":"series","type":"nominal","scale":{"domain":["black","white","note","g18p10","g18p100","g19p10","g19p100"],"range":["#000000","#FFFFFF","#111111","#FF0000","#0000FF","#A52A2A","#9400D3"]},"legend":null}
 }},
{"data":{"values":[
  {"t":"2026-01-23T03:00Z","v":7855,"label":"Primary satellite","series":"note"},
  {"t":"2026-01-23T03:00Z","v":4280,"label":"GOES-18/137W","series":"note"},
  {"t":"2026-01-23T03:00Z","v":2010,"label":">10 MeV proton","series":"g18p10"},
  {"t":"2026-01-23T03:00Z","v":1004,"label":">100 MeV proton","series":"g18p100"},
  {"t":"2026-01-23T03:00Z","v":165,"label":"Secondary satellite","series":"note"},
  {"t":"2026-01-23T03:00Z","v":88,"label":"GOES-19/75W","series":"note"},
  {"t":"2026-01-23T03:00Z","v":41.6,"label":">10 MeV proton","series":"g19p10"},
  {"t":"2026-01-23T03:00Z","v":20.2,"label":">100 MeV proton","series":"g19p100"}]},
 "mark":{"type":"text","align":"left","baseline":"middle","fontSize":12.5,"font":"DejaVu Sans"},
 "encoding":{
  "x":{"field":"t","type":"temporal","scale":{"type":"utc"},"axis":null},
  "y":{"field":"v","type":"quantitative","scale":{"type":"log"},"axis":null},
  "text":{"field":"label"},
  "color":{"field":"series","type":"nominal","legend":null}
 }},
{"data":{"values":[
  {"t":"2026-01-23T03:00Z","v":1.22,"label":"data from NOAA/SWPC","series":"note"},
  {"t":"2026-01-23T03:00Z","v":0.734,"label":"plotted by NICT","series":"note"},
  {"t":"2026-01-23T03:00Z","v":0.235,"label":"Last update:","series":"note"},
  {"t":"2026-01-23T03:00Z","v":0.134,"label":"2026/01/22 01:40 UT","series":"note"}]},
 "mark":{"type":"text","align":"left","baseline":"middle","fontSize":12,"font":"DejaVu Sans"},
 "encoding":{
  "x":{"field":"t","type":"temporal","scale":{"type":"utc"},"axis":null},
  "y":{"field":"v","type":"quantitative","scale":{"type":"log"},"axis":null},
  "text":{"field":"label"},
  "color":{"field":"series","type":"nominal","legend":null}
 }}
],
"resolve":{"axis":{"x":"independent","y":"independent"}}
}
